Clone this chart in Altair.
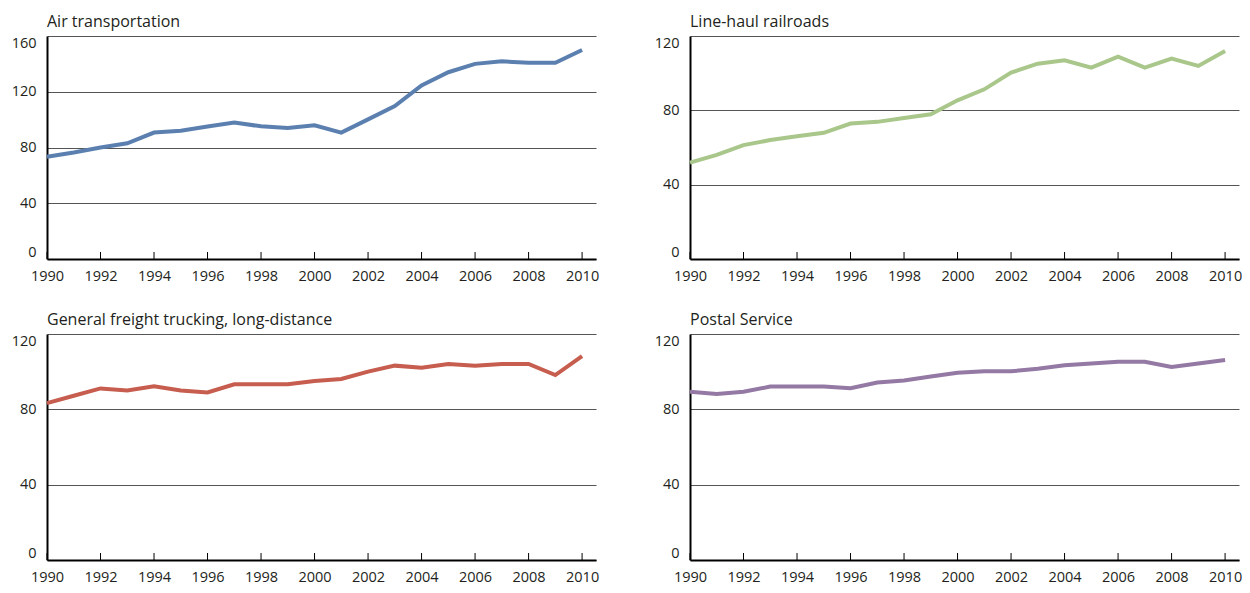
import altair as alt
import pandas as pd

years = list(range(1990, 2011))
tick_years = list(range(1990, 2011, 2))

air = [73.3, 76.4, 80.0, 83.0, 90.7, 92.0, 95.0, 97.9, 95.2, 94.0, 96.0,
       90.7, 100.2, 109.8, 124.6, 134.0, 140.0, 141.8, 140.8, 140.8, 150.0]
rail = [51.9, 56.0, 61.3, 64.0, 66.0, 67.9, 72.9, 73.8, 75.9, 77.9, 85.4,
        91.3, 100.3, 105.1, 106.9, 103.0, 108.9, 103.0, 107.8, 103.9, 111.9]
truck = [83.3, 87.2, 91.1, 90.0, 92.2, 90.0, 89.0, 93.3, 93.3, 93.3, 95.0,
         96.1, 100.0, 103.2, 102.1, 104.1, 103.2, 104.1, 104.1, 98.2, 108.2]
postal = [89.3, 88.2, 89.3, 92.1, 92.1, 92.1, 91.2, 94.2, 95.3, 97.4, 99.4,
          100.2, 100.2, 101.5, 103.4, 104.3, 105.2, 105.2, 102.5, 104.3, 106.2]

titles = ["Air transportation", "Line-haul railroads",
          "General freight trucking, long-distance", "Postal Service"]
colors = ["#5b80b0", "#a9c78b", "#c65d4e", "#9479a4"]
ymaxes = [160, 120, 120, 120]

FONT = "Open Sans"
TEXT = "#231f20"


def panel(values, title, color, ymax, h):
    df = pd.DataFrame({"year": years, "value": values})
    tdf = pd.DataFrame({"year": tick_years})
    x = alt.X(
        "year:Q",
        scale=alt.Scale(domain=[1990, 2010.52], nice=False, zero=False),
        axis=alt.Axis(values=tick_years, format="d", title=None, grid=False,
                      ticks=False, tickSize=0, labelPadding=10,
                      domainColor="#000000", domainWidth=2, labelFlush=False,
                      labelFontSize=14.5, labelFont=FONT, labelColor=TEXT),
    )
    y = alt.Y(
        "value:Q",
        scale=alt.Scale(domain=[0, ymax], nice=False),
        axis=alt.Axis(values=list(range(0, ymax + 1, 40)), title=None,
                      ticks=False, tickSize=0, labelPadding=11, labelFlush=True,
                      grid=True, gridColor="#555555", gridWidth=1.2,
                      domainColor="#000000", domainWidth=2,
                      labelFontSize=14.5, labelFont=FONT, labelColor=TEXT),
    )
    ticks = alt.Chart(tdf).mark_rule(color="#000000", strokeWidth=1).encode(
        x=x, y=alt.value(h), y2=alt.value(h - 7))
    line = alt.Chart(df).mark_line(color=color, strokeWidth=4).encode(x=x, y=y)
    return alt.layer(ticks, line).properties(
        width=549, height=h,
        title=alt.TitleParams(title, anchor="start", frame="group", offset=-8,
                              fontSize=16, font=FONT, color=TEXT,
                              fontWeight="normal", baseline="alphabetic"),
    )


p1 = panel(air, titles[0], colors[0], ymaxes[0], 223)
p2 = panel(rail, titles[1], colors[1], ymaxes[1], 223)
p3 = panel(truck, titles[2], colors[2], ymaxes[2], 226)
p4 = panel(postal, titles[3], colors[3], ymaxes[3], 226)

chart = alt.vconcat(
    alt.hconcat(p1, p2, spacing=55),
    alt.hconcat(p3, p4, spacing=55),
    spacing=29,
).properties(
    padding={"left": 3, "top": 6, "right": 0, "bottom": 0}
).configure_view(stroke=None)

chart.save("out.html", embed_options={"renderer": "svg", "actions": False})
